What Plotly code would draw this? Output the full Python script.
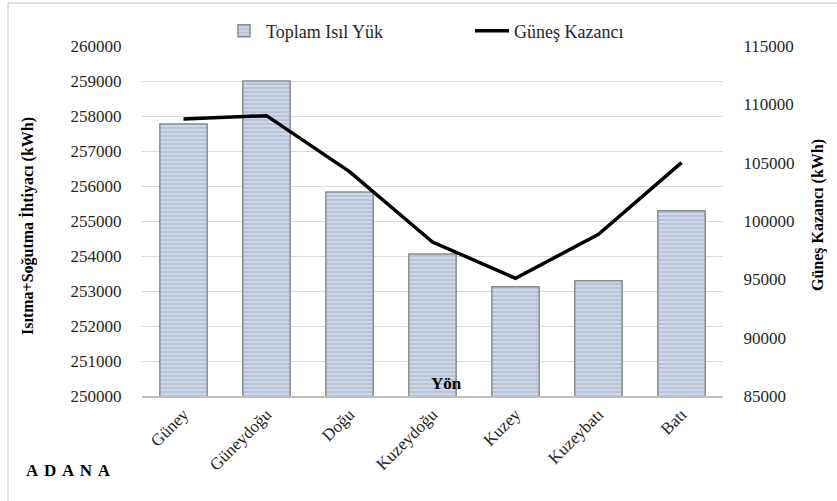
import plotly.graph_objects as go

# Orientation categories and values
directions = ["Güney", "Güneydoğu", "Doğu", "Kuzeydoğu", "Kuzey", "Kuzeybatı", "Batı"]
total_load = [257770, 259000, 255830, 254060, 253125, 253295, 255295]   # kWh, left axis
solar_gain = [108750, 109030, 104230, 98200, 95090, 98860, 105000]      # kWh, right axis

left_ticks = list(range(250000, 260001, 1000))
right_ticks = list(range(85000, 115001, 5000))

W, H = 837, 501
L, R, T, B = 142, 114, 46, 105
pw, ph = W - L - R, H - T - B


def px(x):
    return (x - L) / pw


def py(y):
    return (H - B - y) / ph


serif = "'Liberation Serif', Tinos, 'Times New Roman', Times, 'Noto Serif', 'DejaVu Serif', serif"

fig = go.Figure()

fig.add_trace(go.Bar(
    x=directions, y=total_load, name="Toplam Isıl Yük",
    marker=dict(
        color="#c9d6ee",
        line=dict(color="#8c8c8c", width=1.5),
        pattern=dict(shape="-", fgcolor="#a9a9a9", bgcolor="#cad8f0",
                     size=4, solidity=0.45),
    ),
    yaxis="y", legend="legend",
))

fig.add_trace(go.Scatter(
    x=directions, y=solar_gain, name="Güneş Kazancı",
    mode="lines", line=dict(color="black", width=3.5),
    yaxis="y2", legend="legend2",
))

legend_style = dict(orientation="h", xanchor="left", yanchor="middle",
                    font=dict(size=18, family=serif, color="#262626"),
                    bgcolor="rgba(0,0,0,0)", itemwidth=34)

fig.update_layout(
    width=W, height=H,
    margin=dict(l=L, r=R, t=T, b=B),
    paper_bgcolor="white", plot_bgcolor="white",
    font=dict(family=serif, size=17, color="#262626"),
    bargap=0.43,
    showlegend=True,
    legend=dict(x=px(222), y=py(31), **legend_style),
    legend2=dict(x=px(470), y=py(31), **legend_style),
    xaxis=dict(
        tickangle=-45, showgrid=False, showline=True, linecolor="#bfbfbf", linewidth=1.5,
        tickfont=dict(size=17, family=serif, color="#262626"), ticks="",
        range=[-0.5, 6.5],
    ),
    yaxis=dict(
        range=[250000, 260000], tickvals=left_ticks, tickformat="d",
        showgrid=True, gridcolor="#d9d9d9", gridwidth=1, zeroline=False,
        tickfont=dict(size=17, family=serif, color="#262626"),
        ticks="outside", ticklen=16, tickcolor="rgba(0,0,0,0)",
    ),
    yaxis2=dict(
        range=[85000, 115000], tickvals=right_ticks, tickformat="d",
        overlaying="y", side="right", showgrid=False, zeroline=False,
        tickfont=dict(size=17, family=serif, color="#262626"),
        ticks="outside", ticklen=16, tickcolor="rgba(0,0,0,0)",
    ),
)

annotations = [
    dict(text="<b>Isıtma+Soğutma İhtiyacı (kWh)</b>", x=px(28), y=py(226), textangle=-90,
         font=dict(size=16, family=serif, color="#000000")),
    dict(text="<b>Güneş Kazancı (kWh)</b>", x=px(818), y=py(215), textangle=-90,
         font=dict(size=16, family=serif, color="#000000")),
    dict(text="<b>Yön</b>", x=px(446), y=py(383),
         font=dict(size=17, family=serif, color="#000000")),
    dict(text="<b>A\u2004D\u2004A\u2004N\u2004A</b>", x=px(24), y=py(470), xanchor="left",
         font=dict(size=17, family=serif, color="#000000")),
]
for a in annotations:
    a.setdefault("xanchor", "center")
    a.update(xref="paper", yref="paper", yanchor="middle", showarrow=False)
fig.update_layout(annotations=annotations)

# light frame around the chart area
fig.add_shape(type="line", xref="paper", yref="paper",
              x0=px(8), x1=px(W + 5), y0=py(3), y1=py(3),
              line=dict(color="#d9d9d9", width=1.5))
fig.add_shape(type="line", xref="paper", yref="paper",
              x0=px(8), x1=px(8), y0=py(3), y1=py(H + 5),
              line=dict(color="#d9d9d9", width=1.5))

fig.write_html("out.html")
